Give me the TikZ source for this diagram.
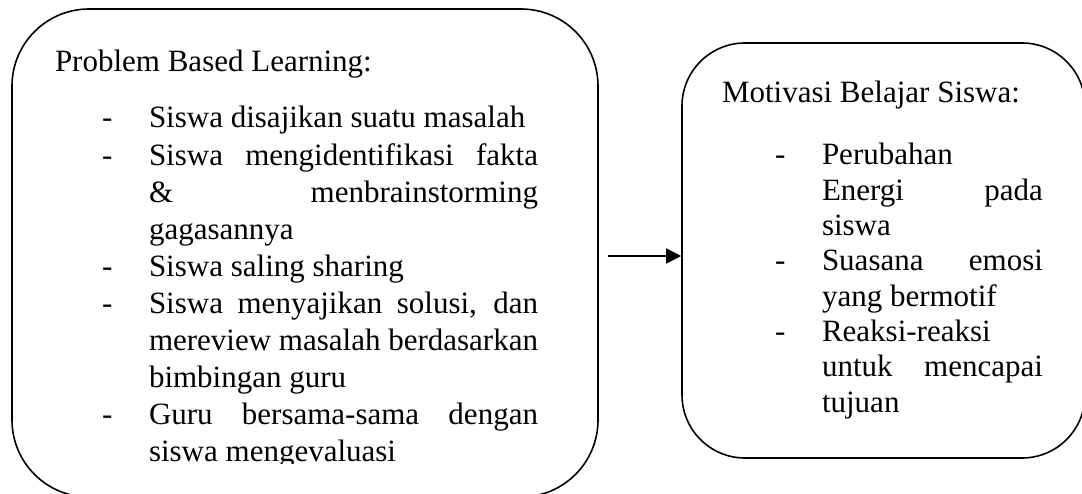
\documentclass[tikz,border=0pt]{standalone}
\usepackage{fontspec}
\setmainfont{Liberation Serif}
\usetikzlibrary{arrows.meta}
\begin{document}
\begin{tikzpicture}[x=1pt,y=1pt,
  roundbox/.style={draw=black,line width=1.6pt,rounded corners=#1,inner sep=0pt},
  txt/.style={anchor=base west,inner sep=0pt,outer sep=0pt,font=\fontsize{31}{37}\selectfont},
  arr/.style={line width=1.8pt,-{Triangle[length=15pt,width=15pt]}}]
\useasboundingbox (0,0) rectangle (1082,-494);
% boxes
\node[roundbox=77pt,minimum width=586pt,minimum height=488pt] (left) at (305,-253) {};
\node[roundbox=63pt,minimum width=403pt,minimum height=415pt] (right) at (883.5,-250.5) {};
% left text
\begin{scope}
\clip (0,-463.5) rectangle (1082,0);
\node[txt] (lt) at (55,-72) {Problem Based Learning:};
\node[txt] (ld1) at (102,-128) {-};
\node[txt] (l1) at (149,-128) {Siswa disajikan suatu masalah};
\node[txt] (ld2) at (102,-165.1) {-};
\node[txt] (l2) at (149,-165.1) {\makebox[389pt][s]{Siswa mengidentifikasi fakta}};
\node[txt] (l3) at (149,-202.2) {\makebox[389pt][s]{\& menbrainstorming}};
\node[txt] (l4) at (149,-239.3) {gagasannya};
\node[txt] (ld3) at (102,-276.4) {-};
\node[txt] (l5) at (149,-276.4) {Siswa saling sharing};
\node[txt] (ld4) at (102,-313.5) {-};
\node[txt] (l6) at (149,-313.5) {\makebox[389pt][s]{Siswa menyajikan solusi, dan}};
\node[txt] (l7) at (149,-350.6) {\makebox[389pt][s]{mereview masalah berdasarkan}};
\node[txt] (l8) at (149,-387.7) {bimbingan guru};
\node[txt] (ld5) at (102,-424.8) {-};
\node[txt] (l9) at (149,-424.8) {\makebox[389pt][s]{Guru bersama-sama dengan}};
\node[txt] (l10) at (149,-461.9) {siswa mengevaluasi};
\end{scope}
% right text
\node[txt] (rt) at (722,-103) {Motivasi Belajar Siswa:};
\node[txt] (rd1) at (775,-165) {-};
\node[txt] (r1) at (822,-165) {Perubahan};
\node[txt] (r2) at (822,-200.3) {\makebox[221pt][s]{Energi pada}};
\node[txt] (r3) at (822,-235.6) {siswa};
\node[txt] (rd2) at (775,-270.9) {-};
\node[txt] (r4) at (822,-270.9) {\makebox[221pt][s]{Suasana emosi}};
\node[txt] (r5) at (822,-306.2) {yang bermotif};
\node[txt] (rd3) at (775,-341.5) {-};
\node[txt] (r6) at (822,-341.5) {Reaksi-reaksi};
\node[txt] (r7) at (822,-376.8) {\makebox[221pt][s]{untuk mencapai}};
\node[txt] (r8) at (822,-412.1) {tujuan};
% arrow
\draw[arr] ([shift={(9pt,-3pt)}]left.east) -- ([yshift=-5.5pt]right.west);
\end{tikzpicture}
\end{document}
